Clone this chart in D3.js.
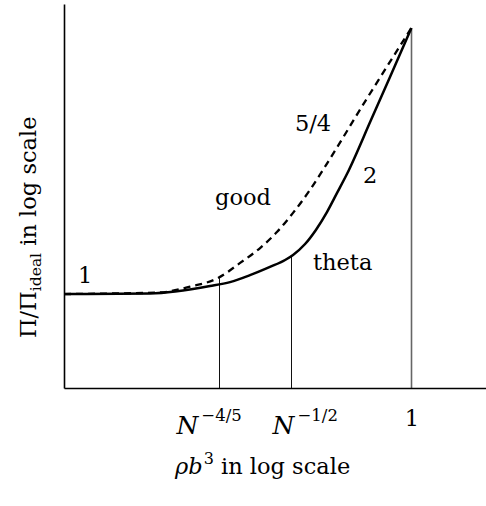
<!DOCTYPE html>
<html>
<head>
<meta charset="utf-8">
<script src="https://cdn.jsdelivr.net/npm/d3@7"></script>
<style>
  body { margin: 0; background: #fff; }
  svg { display: block; }
  .lbl { font-family: "DejaVu Serif", serif; font-size: 22.5px; fill: #000; }
</style>
</head>
<body>
<svg id="chart" width="486" height="506"></svg>
<script>
// Osmotic pressure crossover sketch, log-log axes.
// x is log_N(rho b^3), y is log_N(Pi / Pi_ideal).

// crossover positions on the x axis
const tickValues = [-0.8, -0.5, 0];
const tickExps = ['\u22124/5', '\u22121/2', null];

// theta solvent (solid)
const thetaX = [-1.444, -1.086, -0.837, -0.754, -0.671, -0.588, -0.525, -0.492, -0.442, -0.397, -0.351, -0.309, -0.268, -0.168, -0.089, 0];
const thetaY = [0, 0.002, 0.030, 0.045, 0.071, 0.102, 0.128, 0.147, 0.188, 0.241, 0.308, 0.380, 0.451, 0.654, 0.816, 1.0];

// good solvent (dashed)
const goodX = [-1.444, -1.253, -1.045, -0.920, -0.804, -0.712, -0.629, -0.559, -0.492, -0.422, -0.368, -0.189, 0];
const goodY = [0, 0.002, 0.006, 0.028, 0.060, 0.117, 0.173, 0.233, 0.305, 0.391, 0.466, 0.729, 1.0];

// height each guide line reaches
const guideTop = [0.060, 0.140, 1.0];

const svg = d3.select('#chart');
const mLeft = 64, mRight = 486, mTop = 4, mBottom = 388;

const x = d3.scaleLinear().domain([-1.444, 0.31]).range([mLeft, mRight]);
const y = d3.scaleLinear().domain([-0.353, 1.09]).range([mBottom, mTop]);

// guide lines from axis up to the curve
svg.append('g').selectAll('line')
  .data(tickValues)
  .join('line')
  .attr('x1', d => Math.round(x(d)) + 0.5).attr('x2', d => Math.round(x(d)) + 0.5)
  .attr('y1', mBottom).attr('y2', (d, i) => y(guideTop[i]))
  .attr('stroke', (d, i) => i === 2 ? '#666' : '#111')
  .attr('stroke-width', (d, i) => i === 2 ? 1.6 : 1);

// axes
const xAxis = svg.append('g')
  .attr('transform', `translate(0,${mBottom})`)
  .call(d3.axisBottom(x).tickValues(tickValues).tickSize(0).tickSizeOuter(0).tickFormat(''));
xAxis.select('.domain').attr('stroke', '#000').attr('stroke-width', 1.6);

const yAxis = svg.append('g')
  .attr('transform', `translate(${mLeft},0)`)
  .call(d3.axisLeft(y).tickValues([]).tickSizeOuter(0));
yAxis.select('.domain').attr('stroke', '#000').attr('stroke-width', 1.6);

// tick labels (N^exp and 1)
const tickShift = [-43, -19, 0];
xAxis.selectAll('.tick text').remove();
xAxis.selectAll('.tick').each(function (d, i) {
  const t = d3.select(this).append('text')
    .attr('class', 'lbl')
    .attr('x', tickShift[i])
    .attr('fill', '#000');
  if (tickExps[i]) {
    t.attr('y', 46).attr('text-anchor', 'start');
    t.append('tspan').attr('font-style', 'italic').attr('font-size', 25).text('N');
    t.append('tspan').attr('font-size', 16.5).attr('dy', -13).attr('dx', 3).text(tickExps[i]);
  } else {
    t.attr('y', 38).attr('text-anchor', 'middle').text('1');
  }
});

// curves
const line = d3.line()
  .x(d => x(d[0]))
  .y(d => y(d[1]))
  .curve(d3.curveMonotoneX);

svg.append('path')
  .datum(d3.zip(goodX, goodY))
  .attr('d', line)
  .attr('fill', 'none')
  .attr('stroke', '#000')
  .attr('stroke-width', 2.3)
  .attr('stroke-dasharray', '7,5');

svg.append('path')
  .datum(d3.zip(thetaX, thetaY))
  .attr('d', line)
  .attr('fill', 'none')
  .attr('stroke', '#000')
  .attr('stroke-width', 2.5);

// annotations
const notes = [
  { t: '1', u: -1.386, v: 0.041 },
  { t: 'good', u: -0.816, v: 0.335 },
  { t: 'theta', u: -0.409, v: 0.090 },
  { t: '5/4', u: -0.484, v: 0.613 },
  { t: '2', u: -0.201, v: 0.417 }
];
svg.append('g').selectAll('text')
  .data(notes)
  .join('text')
  .attr('class', 'lbl')
  .attr('x', d => x(d.u))
  .attr('y', d => y(d.v))
  .text(d => d.t);

// x title
const xt = svg.append('text')
  .attr('class', 'lbl')
  .attr('font-size', 24)
  .attr('x', 175)
  .attr('y', 474);
xt.append('tspan').attr('font-style', 'italic').text('\u03c1b');
xt.append('tspan').attr('font-size', 16).attr('dy', -10).attr('dx', 1).text('3');
xt.append('tspan').attr('dy', 10).text(' in log scale');

// y title
const yt = svg.append('text')
  .attr('class', 'lbl')
  .attr('transform', 'translate(36,338) rotate(-90)');
yt.append('tspan').text('\u03a0/\u03a0');
yt.append('tspan').attr('font-size', 15.5).attr('dy', 5).text('ideal');
yt.append('tspan').attr('dy', -5).text(' in log scale');
</script>
</body>
</html>
